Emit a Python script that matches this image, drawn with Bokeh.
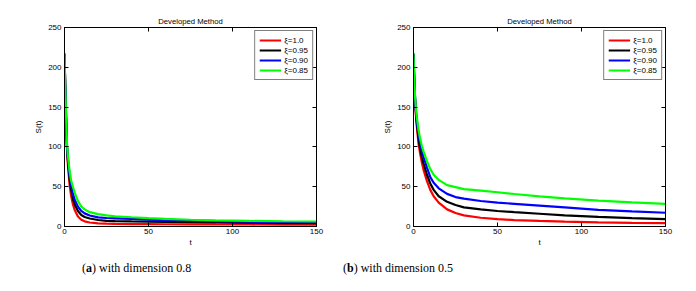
from bokeh.plotting import figure
from bokeh.models import Range1d, LinearAxis, FixedTicker, Legend, LegendItem, Title, Div
from bokeh.layouts import row, column
from bokeh.embed import file_html
from bokeh.resources import INLINE

# ---------------- data ----------------
t_vals = [0, 0.5, 1, 1.5, 2, 3, 4, 5, 6, 8, 10, 12, 15, 20, 25, 30, 40, 50, 60, 75, 90, 110, 130, 150]

# (a) dimension 0.8
a_xi_100 = [217, 170, 130, 96, 78, 53, 38, 28, 21, 12.5, 8.5, 6.5, 5, 4, 3.5, 3.2, 3.0, 2.9, 2.8, 2.7, 2.6, 2.5, 2.4, 2.3]
a_xi_095 = [217, 171, 132, 99, 83, 60, 46, 35, 28, 19.5, 14.5, 12, 10, 8.2, 7.1, 6.7, 6.4, 6.2, 5.8, 5.4, 5.0, 4.6, 4.3, 4.1]
a_xi_090 = [217, 172, 134, 101, 86, 65, 52, 41, 34, 25, 19.5, 16.5, 13.8, 11.5, 10.7, 10.3, 9.5, 8.7, 8.0, 7.2, 6.6, 6.0, 5.4, 5.0]
a_xi_085 = [217, 173, 136, 104, 90, 70, 57, 50, 43, 32, 25, 21.5, 18, 15.5, 14, 12.9, 11.6, 10.4, 9.6, 8.5, 7.7, 7.0, 6.6, 6.3]

# (b) dimension 0.5
b_xi_100 = [217, 180, 155, 138, 125, 104, 91, 80, 71, 57, 46, 38, 30, 21.5, 17, 14, 11, 9.2, 8.1, 7.0, 6.1, 5.2, 4.6, 4.2]
b_xi_095 = [217, 181, 157, 141, 129, 110, 97, 87, 79, 65, 54, 46, 38, 31, 27, 24, 21.5, 19.5, 18, 16, 14, 12, 10.5, 9.3]
b_xi_090 = [217, 182, 159, 144, 133, 116, 104, 95, 87, 74, 62, 55, 48, 41, 37, 35, 32, 30, 28.5, 26.3, 24, 21, 19, 17.3]
b_xi_085 = [217, 183, 161, 147, 137, 121, 110, 101, 94, 82, 72, 65, 58.5, 52, 49.5, 47, 45, 43, 40.8, 37.8, 35.3, 32.5, 30.3, 28.5]

legend_labels = ["\u03be=1.0", "\u03be=0.95", "\u03be=0.90", "\u03be=0.85"]
line_colors = ["#ff0000", "#000000", "#0000ff", "#00ff00"]
x_ticks = [0, 50, 100, 150]
y_ticks = [0, 50, 100, 150, 200, 250]
chart_title = "Developed Method"
x_label = "t"
y_label = "S(t)"
captions = [("a", " with dimension 0.8"), ("b", " with dimension 0.5")]

SANS = "Liberation Sans"
SERIF = "Liberation Serif"

FRAME_W = 252
FRAME_H = 199
FIG_H = 252
TOP = 27
PAGE_H = 289


def make_panel(series, border_left, border_right):
    w = border_left + FRAME_W + border_right
    p = figure(width=w, height=FIG_H, output_backend="svg", toolbar_location=None,
               x_range=Range1d(0, 150), y_range=Range1d(0, 250),
               min_border_left=border_left, min_border_right=border_right,
               min_border_top=TOP, min_border_bottom=FIG_H - TOP - FRAME_H)
    p.background_fill_color = "white"
    p.border_fill_color = "white"
    p.outline_line_color = "black"
    p.outline_line_width = 1
    p.xgrid.visible = False
    p.ygrid.visible = False

    for ax, ticks in ((p.xaxis[0], x_ticks), (p.yaxis[0], y_ticks)):
        ax.ticker = FixedTicker(ticks=ticks)
        ax.major_tick_in = 4
        ax.major_tick_out = 0
        ax.minor_tick_line_color = None
        ax.axis_line_color = "black"
        ax.major_tick_line_color = "black"
        ax.major_label_text_font = SANS
        ax.major_label_text_font_size = "8px"
        ax.major_label_text_color = "black"
        ax.axis_label_text_font = SANS
        ax.axis_label_text_font_size = "8px"
        ax.axis_label_text_font_style = "normal"
        ax.axis_label_text_color = "black"
    p.xaxis[0].axis_label = x_label
    p.xaxis[0].major_label_standoff = 2
    p.xaxis[0].axis_label_standoff = 1
    p.yaxis[0].axis_label = y_label
    p.yaxis[0].major_label_standoff = 3
    p.yaxis[0].axis_label_standoff = 2

    top = LinearAxis(ticker=FixedTicker(ticks=x_ticks), major_tick_in=4, major_tick_out=0,
                     minor_tick_line_color=None, major_label_text_color=None,
                     major_label_text_font_size="1px", major_label_standoff=0)
    right = LinearAxis(ticker=FixedTicker(ticks=y_ticks), major_tick_in=4, major_tick_out=0,
                       minor_tick_line_color=None, major_label_text_color=None,
                       major_label_text_font_size="1px", major_label_standoff=0)
    p.add_layout(top, "above")
    p.add_layout(right, "right")

    p.add_layout(Title(text=chart_title, align="center", text_font=SANS,
                       text_font_size="7.7px", text_font_style="normal",
                       text_color="black", standoff=4), "above")

    items = []
    for ys, col, lab in zip(series, line_colors, legend_labels):
        r = p.line(t_vals, ys, line_color=col, line_width=2.2)
        items.append(LegendItem(label=lab, renderers=[r]))
    leg = Legend(items=items, location="top_right")
    leg.margin = 3
    leg.padding = 4
    leg.spacing = 0
    leg.glyph_width = 22
    leg.glyph_height = 10
    leg.label_height = 10
    leg.label_standoff = 3
    leg.label_text_font = SANS
    leg.label_text_font_size = "8px"
    leg.label_text_color = "black"
    leg.border_line_color = "black"
    leg.border_line_width = 1.5
    leg.background_fill_color = "white"
    leg.background_fill_alpha = 1
    p.add_layout(leg)
    return p


def caption_div(letter, rest, width, left_px):
    html = ('<div style="margin-left:%dpx; margin-top:9px; font-family:\'%s\'; '
            'font-size:12px; line-height:14px; color:black; white-space:nowrap;">'
            '(<b>%s</b>)%s</div>' % (left_px, SERIF, letter, rest))
    return Div(text=html, width=width, height=PAGE_H - FIG_H, margin=(0, 0, 0, 0))


p1 = make_panel([a_xi_100, a_xi_095, a_xi_090, a_xi_085], 64, 32)
p2 = make_panel([b_xi_100, b_xi_095, b_xi_090, b_xi_085], 65, 29)

d1 = caption_div(captions[0][0], captions[0][1], 340, 82)
d2 = caption_div(captions[1][0], captions[1][1], 354, 343 - 340)

layout = column(row(p1, p2), row(d1, d2))
open("out.html", "w").write(file_html(layout, INLINE))
